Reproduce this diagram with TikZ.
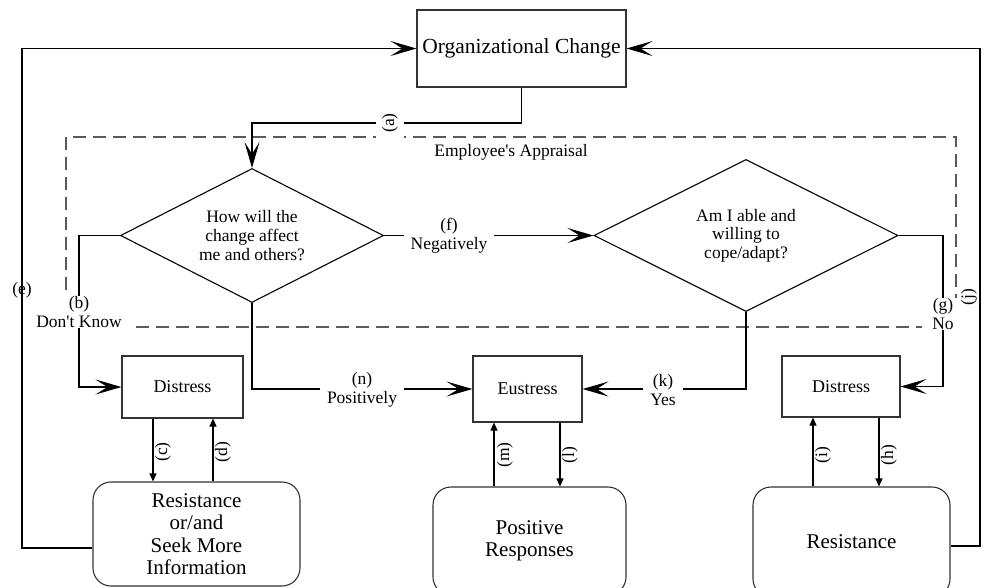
\documentclass[tikz,border=0pt]{standalone}
\usepackage{fontspec}
\setmainfont{Liberation Serif}
\usetikzlibrary{shapes.geometric,arrows.meta}
\definecolor{boxgray}{HTML}{333333}
\definecolor{dashgray}{HTML}{5A5A5A}

\begin{document}
\begin{tikzpicture}[x=1pt,y=-1pt,line width=1.1pt,
  box/.style={draw=boxgray,rectangle,inner sep=0pt,align=center},
  roundbox/.style={box,rounded corners=18pt,font=\fontsize{21}{22.4}\selectfont},
  ask/.style={draw,diamond,aspect=2,inner sep=0pt,align=center,font=\fontsize{17.5}{18.7}\selectfont},
  tag/.style={fill=white,inner xsep=7pt,inner ysep=1pt,align=center,font=\fontsize{17.5}{18.5}\selectfont},
  sidetag/.style={rotate=90,inner sep=1pt,font=\fontsize{17.5}{18}\selectfont},
  bigarrow/.style={-{Stealth[length=26pt,width=15pt,inset=12pt]}},
  smallarrow/.style={-{Triangle[length=8pt,width=7pt]}}]
  \clip (0,0) rectangle (984,587);
  % appraisal frame
  \draw[dashgray,dash pattern=on 13pt off 7pt] (66,137) rectangle (956,327);
  \node[font=\fontsize{17.5}{18}\selectfont] (appr) at (511,152) {Employee\textquotesingle s Appraisal};
  % boxes
  \node[box,minimum width=209pt,minimum height=77pt,font=\fontsize{21.5}{24}\selectfont] (org) at (521.5,48.5) {Organizational Change};
  \node[ask,minimum width=263pt,minimum height=134pt] (how) at (252,235.5) {How will the\\change affect\\me and others?};
  \node[ask,minimum width=304pt,minimum height=152pt] (able) at (746,235.5) {Am I able and\\willing to\\cope/adapt?};
  \node[box,minimum width=121pt,minimum height=62pt,font=\fontsize{18}{20}\selectfont] (dis1) at (182.5,387) {Distress};
  \node[box,minimum width=109pt,minimum height=66pt,font=\fontsize{18}{20}\selectfont] (eus) at (527.5,389) {Eustress};
  \node[box,minimum width=118pt,minimum height=61pt,font=\fontsize{18}{20}\selectfont] (dis2) at (841,386.5) {Distress};
  \node[roundbox,minimum width=207pt,minimum height=104pt] (res1) at (196.5,534) {Resistance\\or/and\\Seek More\\Information};
  \node[roundbox,minimum width=193pt,minimum height=108pt] (pos) at (529.5,541) {Positive\\Responses};
  \node[roundbox,minimum width=197pt,minimum height=110pt] (res2) at (851.5,542) {Resistance};
  % bends of the connectors
  \coordinate (abend) at (390,123);
  \coordinate (bbend) at (79,312);
  \coordinate (ebend) at (22,290);
  \coordinate (gbend) at (943,314);
  \coordinate (jbend) at (980,297);
  \coordinate (cdown) at (153,452);
  \coordinate (dup) at (213,452);
  \coordinate (mup) at (494,455);
  \coordinate (ldown) at (560,455);
  \coordinate (iup) at (813,455);
  \coordinate (hdown) at (879,455);
  % connectors
  \draw[bigarrow] (org.south) |- (abend) -| (how.north);
  \draw[bigarrow] (how.west) -| (bbend) |- (dis1.west);
  \draw[bigarrow] ([yshift=-14pt]res1.west) -| (ebend) |- (org.west);
  \draw[bigarrow] (how.east) -- (able.west);
  \draw[bigarrow] (able.east) -| (gbend) |- (dis2.east);
  \draw[bigarrow] ([yshift=-4pt]res2.east) -| (jbend) |- (org.east);
  \draw[bigarrow] (able.south) |- (eus.east);
  \draw[bigarrow] (how.south) |- (eus.west);
  \draw[smallarrow] (cdown |- dis1.south) -- (cdown |- res1.north);
  \draw[smallarrow] (dup |- res1.north) -- (dup |- dis1.south);
  \draw[smallarrow] (mup |- pos.north) -- (mup |- eus.south);
  \draw[smallarrow] (ldown |- eus.south) -- (ldown |- pos.north);
  \draw[smallarrow] (iup |- res2.north) -- (iup |- dis2.south);
  \draw[smallarrow] (hdown |- dis2.south) -- (hdown |- res2.north);
  % labels
  \node[sidetag,fill=white,inner sep=6pt] (la) at (abend) {(a)};
  \node[tag] (lb) at (bbend) {(b)\\Don\textquotesingle t Know};
  \node[font=\fontsize{17.5}{18}\selectfont] (le) at (ebend) {(e)};
  \node[tag] (lf) at (449,235.5) {(f)\\Negatively};
  \node[tag,minimum width=42pt] (lg) at (gbend) {(g)\\No};
  \node[sidetag] (lj) at (969,297) {(j)};
  \node[tag] (lk) at (663,390) {(k)\\Yes};
  \node[tag] (ln) at (362,390) {(n)\\Positively};
  \node[sidetag] (lc) at ([xshift=10pt]cdown) {(c)};
  \node[sidetag] (ld) at ([xshift=10pt]dup) {(d)};
  \node[sidetag] (lm) at ([xshift=11pt]mup) {(m)};
  \node[sidetag] (ll) at ([xshift=10pt]ldown) {(l)};
  \node[sidetag] (li) at ([xshift=10pt]iup) {(i)};
  \node[sidetag] (lh) at ([xshift=10pt]hdown) {(h)};
\end{tikzpicture}
\end{document}
